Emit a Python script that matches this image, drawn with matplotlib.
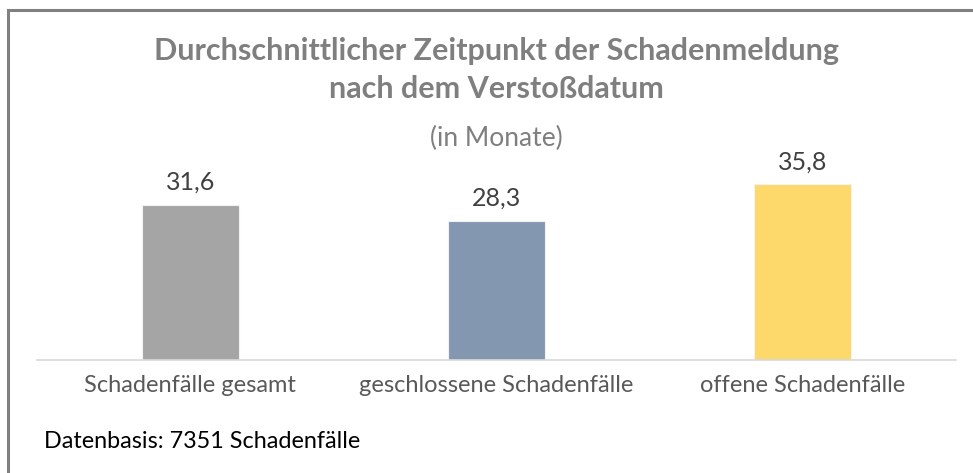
import matplotlib.pyplot as plt
from matplotlib.patches import Rectangle

categories = ["Schadenfälle gesamt", "geschlossene Schadenfälle", "offene Schadenfälle"]
values = [31.6, 28.3, 35.8]
value_labels = ["31,6", "28,3", "35,8"]
colors = ["#A5A5A5", "#8497B0", "#FDD86A"]

plt.rcParams['font.family'] = ['Lato', 'DejaVu Sans']

fig = plt.figure(figsize=(9.73, 4.73), dpi=100)
W, H = 973, 473

# outer border of the chart box (cropped at right and bottom)
fig.patches.append(Rectangle((7.5 / W, -0.1), 1.2, (H - 10.5) / H + 0.1,
                             transform=fig.transFigure, fill=False,
                             edgecolor="#808080", linewidth=2.2))

ax = fig.add_axes([37 / W, (H - 360) / H, (956 - 37) / W, 190 / H])
bars = ax.bar(range(3), values, width=0.317, color=colors,
              edgecolor="#f2f2f2", linewidth=0.8, zorder=2)
ax.set_xlim(-0.5, 2.5)
ax.set_ylim(0, 190 / 4.905)

for b, lab in zip(bars, value_labels):
    ax.annotate(lab, (b.get_x() + b.get_width() / 2, b.get_height()),
                xytext=(0, 8), textcoords="offset points", ha="center",
                va="bottom", fontsize=18, color="#404040")

for s in ["top", "right", "left"]:
    ax.spines[s].set_visible(False)
ax.spines["bottom"].set_color("#d9d9d9")
ax.spines["bottom"].set_linewidth(1.2)
ax.set_yticks([])
ax.set_xticks(range(3))
ax.set_xticklabels(categories, fontsize=17, color="#595959")
ax.tick_params(axis="x", length=0, pad=11)

fig.text(496 / W, 1 - 51 / H, "Durchschnittlicher Zeitpunkt der Schadenmeldung",
         ha="center", va="center", fontsize=22, fontweight="bold", color="#7f7f7f")
fig.text(496 / W, 1 - 89 / H, "nach dem Verstoßdatum",
         ha="center", va="center", fontsize=22, fontweight="bold", color="#7f7f7f")
fig.text(496 / W, 1 - 138 / H, "(in Monate)",
         ha="center", va="center", fontsize=19, color="#7f7f7f")
fig.text(44 / W, 1 - 441 / H, "Datenbasis: 7351 Schadenfälle",
         ha="left", va="center", fontsize=16.8, color="#000000")

fig.savefig("out.png", dpi=100)
